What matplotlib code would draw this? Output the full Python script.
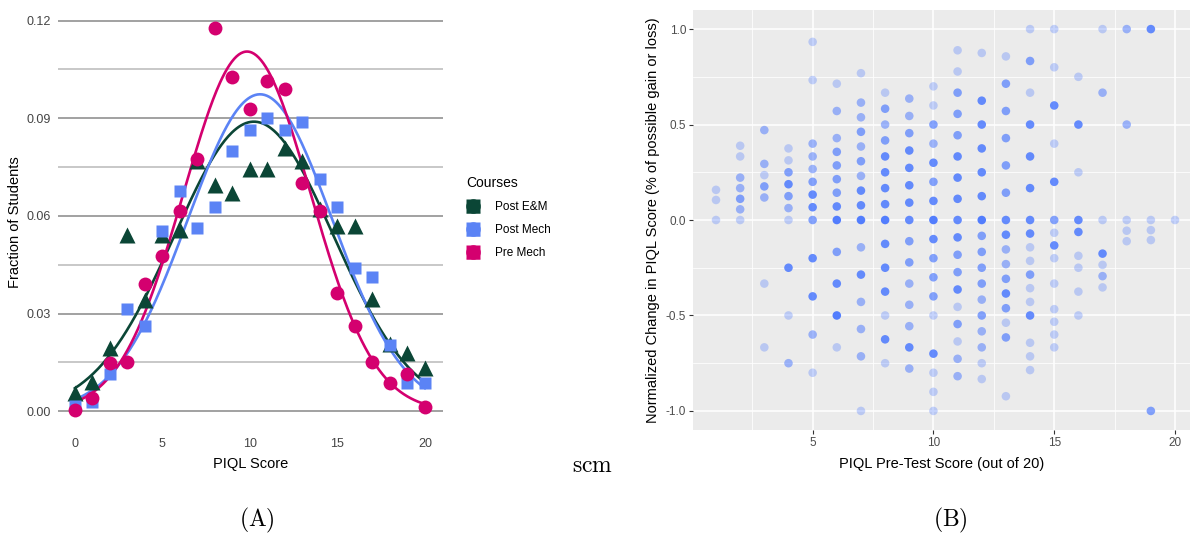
import numpy as np
import matplotlib
matplotlib.use('Agg')
import matplotlib.pyplot as plt
from matplotlib.lines import Line2D
from matplotlib.legend_handler import HandlerTuple

plt.rcParams['font.family'] = ['Liberation Sans', 'DejaVu Sans']
plt.rcParams['mathtext.fontset'] = 'cm'

# ---- panel A: score distributions ----
piql_score = list(range(21))
post_em = [0.0055, 0.0091, 0.0193, 0.0541, 0.0342, 0.0541, 0.0557, 0.0770, 0.0695,
           0.0671, 0.0743, 0.0743, 0.0808, 0.0767, 0.0620, 0.0569, 0.0569, 0.0344,
           0.0206, 0.0178, 0.0132]
post_mech = [0.0016, 0.0028, 0.0114, 0.0313, 0.0263, 0.0554, 0.0676, 0.0564, 0.0626,
             0.0800, 0.0864, 0.0901, 0.0864, 0.0888, 0.0713, 0.0626, 0.0439, 0.0413,
             0.0204, 0.0088, 0.0088]
pre_mech = [0.0005, 0.0040, 0.0149, 0.0150, 0.0390, 0.0477, 0.0616, 0.0776, 0.1176,
            0.1026, 0.0927, 0.1015, 0.0989, 0.0702, 0.0615, 0.0364, 0.0263, 0.0150,
            0.0088, 0.0115, 0.0014]
course_names = ['Post E&M', 'Post Mech', 'Pre Mech']
course_colors = ['#0B4636', '#5B83F5', '#D4006F']
course_markers = ['^', 's', 'o']

# ---- panel B: normalized change vs pre-test score ----
# key = pre-test score, values = normalized change; n = students at that point
norm_change = {
    1: [0.158, 0.105, 0],
    2: [0.389, 0.333, 0.222, 0.167, 0.111, 0.056, 0],
    3: [0.471, 0.294, 0.235, 0.176, 0.118, -0.333, -0.667],
    4: [0.375, 0.3125, 0.25, 0.1875, 0.125, 0.0625, 0, -0.25, -0.5, -0.75],
    5: [0.933, 0.733, 0.4, 0.333, 0.267, 0.2, 0.133, 0.067, 0, -0.2, -0.4, -0.6, -0.8],
    6: [0.714, 0.571, 0.429, 0.357, 0.286, 0.214, 0.143, 0.071, 0, -0.167, -0.333,
        -0.5, -0.667],
    7: [0.769, 0.615, 0.538, 0.462, 0.385, 0.308, 0.231, 0.154, 0.077, 0, -0.143,
        -0.286, -0.429, -0.571, -0.714, -1.0],
    8: [0.667, 0.583, 0.5, 0.417, 0.333, 0.25, 0.167, 0.083, 0, -0.125, -0.25, -0.375,
        -0.5, -0.625, -0.75],
    9: [0.636, 0.545, 0.455, 0.364, 0.273, 0.182, 0.091, 0, -0.111, -0.222, -0.333,
        -0.444, -0.556, -0.667, -0.778],
    10: [0.7, 0.6, 0.5, 0.4, 0.3, 0.2, 0.1, 0, -0.1, -0.2, -0.3, -0.4, -0.5, -0.7,
         -0.8, -0.9, -1.0],
    11: [0.889, 0.778, 0.667, 0.556, 0.444, 0.333, 0.222, 0.111, 0, -0.091, -0.182,
         -0.273, -0.364, -0.455, -0.545, -0.636, -0.727, -0.818],
    12: [0.875, 0.625, 0.5, 0.375, 0.25, 0.125, 0, -0.083, -0.167, -0.25, -0.333,
         -0.417, -0.5, -0.583, -0.667, -0.75, -0.833],
    13: [0.857, 0.714, 0.571, 0.429, 0.286, 0.143, 0, -0.077, -0.154, -0.231, -0.308,
         -0.385, -0.462, -0.538, -0.615, -0.923],
    14: [1.0, 0.833, 0.667, 0.5, 0.333, 0.167, 0, -0.071, -0.143, -0.214, -0.286,
         -0.357, -0.429, -0.5, -0.643, -0.714, -0.786],
    15: [1.0, 0.8, 0.6, 0.4, 0.2, 0, -0.067, -0.133, -0.2, -0.333, -0.467, -0.533,
         -0.6, -0.667],
    16: [0.75, 0.5, 0.25, 0, -0.0625, -0.1875, -0.25, -0.375, -0.5],
    17: [1.0, 0.667, 0, -0.176, -0.235, -0.294, -0.353],
    18: [1.0, 0.5, 0, -0.056, -0.111],
    19: [1.0, 0, -0.053, -0.105, -1.0],
    20: [0],
}
n_students = {
    1: [1, 1, 1],
    2: [1, 1, 2, 2, 3, 2, 1],
    3: [2, 2, 1, 3, 2, 1, 1],
    4: [1, 1, 3, 5, 3, 2, 1, 5, 1, 2],
    5: [1, 1, 2, 2, 2, 3, 5, 5, 3, 5, 5, 2, 1],
    6: [1, 2, 2, 3, 3, 3, 3, 5, 8, 3, 5, 8, 1],
    7: [1, 2, 2, 3, 2, 3, 2, 5, 5, 8, 2, 5, 2, 2, 2, 1],
    8: [1, 3, 2, 3, 5, 5, 5, 5, 8, 5, 5, 5, 1, 5, 1],
    9: [2, 2, 3, 5, 5, 5, 5, 5, 3, 3, 2, 2, 2, 5, 2],
    10: [1, 1, 3, 2, 5, 3, 5, 8, 5, 3, 3, 3, 1, 5, 1, 1, 1],
    11: [1, 1, 3, 3, 3, 5, 5, 5, 5, 5, 3, 3, 5, 1, 3, 1, 2, 2],
    12: [1, 5, 5, 5, 5, 5, 8, 3, 3, 3, 3, 2, 3, 2, 2, 1, 1],
    13: [1, 3, 3, 3, 3, 3, 5, 5, 2, 2, 3, 5, 3, 1, 3, 1],
    14: [1, 3, 1, 5, 5, 5, 5, 5, 1, 1, 3, 1, 1, 5, 1, 1, 1],
    15: [1, 1, 5, 1, 5, 3, 1, 5, 1, 1, 1, 1, 1, 1],
    16: [1, 5, 1, 5, 5, 1, 1, 1, 1],
    17: [1, 2, 1, 5, 1, 2, 1],
    18: [2, 2, 1, 1, 1],
    19: [5, 1, 1, 1, 3],
    20: [1],
}

fig = plt.figure(figsize=(11.9, 5.38), dpi=100)

# ---------------- left panel ----------------
ax = fig.add_axes([0.0487, 0.1993, 0.3235, 0.7747])
ax.set_xlim(-0.97, 21.03)
ax.set_ylim(-0.006, 0.122)
for v in np.arange(0, 0.1201, 0.015):
    major = abs(v / 0.03 - round(v / 0.03)) < 1e-6
    ax.axhline(v, color='#9A9A9A' if major else '#C4C4C4', lw=1.3, zorder=0)

xs = np.array(piql_score, dtype=float)
xf = np.linspace(0, 20, 300)
series = [post_em, post_mech, pre_mech]
# draw fits first (normal curve from each distribution's mean and spread)
for vals, col in zip(series, course_colors):
    f = np.array(vals)
    tot = f.sum()
    mu = (xs * f).sum() / tot
    sd = np.sqrt((f * (xs - mu) ** 2).sum() / tot)
    yf = tot * np.exp(-(xf - mu) ** 2 / (2 * sd ** 2)) / (sd * np.sqrt(2 * np.pi))
    ax.plot(xf, yf, color=col, lw=1.9, zorder=3)
sizes = {'^': 11, 's': 9.0, 'o': 10.0}
for vals, col, mk in zip(series, course_colors, course_markers):
    ax.plot(xs, vals, ls='none', marker=mk, ms=sizes[mk], color=col,
            mec='none', zorder=4)

for s in ax.spines.values():
    s.set_visible(False)
ax.set_xticks([0, 5, 10, 15, 20])
ax.set_yticks([0, 0.03, 0.06, 0.09, 0.12])
ax.set_yticklabels(['0.00', '0.03', '0.06', '0.09', '0.12'])
ax.tick_params(length=0, labelsize=9, colors='#444444', pad=5)
ax.set_xlabel('PIQL Score', fontsize=10.5, labelpad=5)
ax.set_ylabel('Fraction of Students', fontsize=10.5, labelpad=3)

# legend: each key shows all three shapes stacked
handles = []
for col in course_colors:
    handles.append(tuple(Line2D([], [], ls='none', marker=m, ms=10.5, color=col, mec='none')
                         for m in ['s', '^', 'o']))
leg = fig.legend(handles, course_names, handler_map={tuple: HandlerTuple(ndivide=1)},
                 loc='upper left', bbox_to_anchor=(0.383, 0.693), frameon=False,
                 title='Courses', fontsize=8.5, title_fontsize=10,
                 handlelength=1.2, handletextpad=1.2, labelspacing=0.95)
leg._legend_box.align = 'left'

# ---------------- right panel ----------------
bx = fig.add_axes([0.5824, 0.2007, 0.4176, 0.7807])
bx.set_facecolor('#EBEBEB')
bx.set_xlim(0.05, 20.62)
bx.set_ylim(-1.1, 1.1)
bx.set_xticks([5, 10, 15, 20])
bx.set_xticks([2.5, 7.5, 12.5, 17.5], minor=True)
bx.set_yticks([-1, -0.5, 0, 0.5, 1])
bx.set_yticks([-0.75, -0.25, 0.25, 0.75], minor=True)
bx.set_yticklabels(['-1.0', '-0.5', '0.0', '0.5', '1.0'])
bx.grid(which='major', color='white', lw=1.1)
bx.grid(which='minor', color='white', lw=0.55)
bx.set_axisbelow(True)
for s in bx.spines.values():
    s.set_visible(False)
bx.tick_params(which='major', length=3, width=0.8, color='#333333',
               labelsize=8.5, labelcolor='#4D4D4D', pad=2)
bx.tick_params(which='minor', length=0)

base = np.array(matplotlib.colors.to_rgb('#4876FF'))
for pre in norm_change:
    ys = norm_change[pre]
    ns = np.array(n_students[pre])
    alphas = 1 - (1 - 0.3) ** ns
    cols = [tuple(base) + (a,) for a in alphas]
    bx.scatter([pre] * len(ys), ys, s=38, c=cols, edgecolors='none', zorder=3)

bx.set_xlabel('PIQL Pre-Test Score (out of 20)', fontsize=10.5, labelpad=6)
bx.set_ylabel('Normalized Change in PIQL Score (% of possible gain or loss)',
              fontsize=10.5, labelpad=4)

# panel captions
fig.text(593 / 1190, 1 - 466 / 538, r'$\mathrm{scm}$', fontsize=17,
         ha='center', va='center')
fig.text(257 / 1190, 1 - 520 / 538, r'$\mathrm{(A)}$', fontsize=17,
         ha='center', va='center')
fig.text(950 / 1190, 1 - 520 / 538, r'$\mathrm{(B)}$', fontsize=17,
         ha='center', va='center')

fig.savefig('out.png', dpi=100)
